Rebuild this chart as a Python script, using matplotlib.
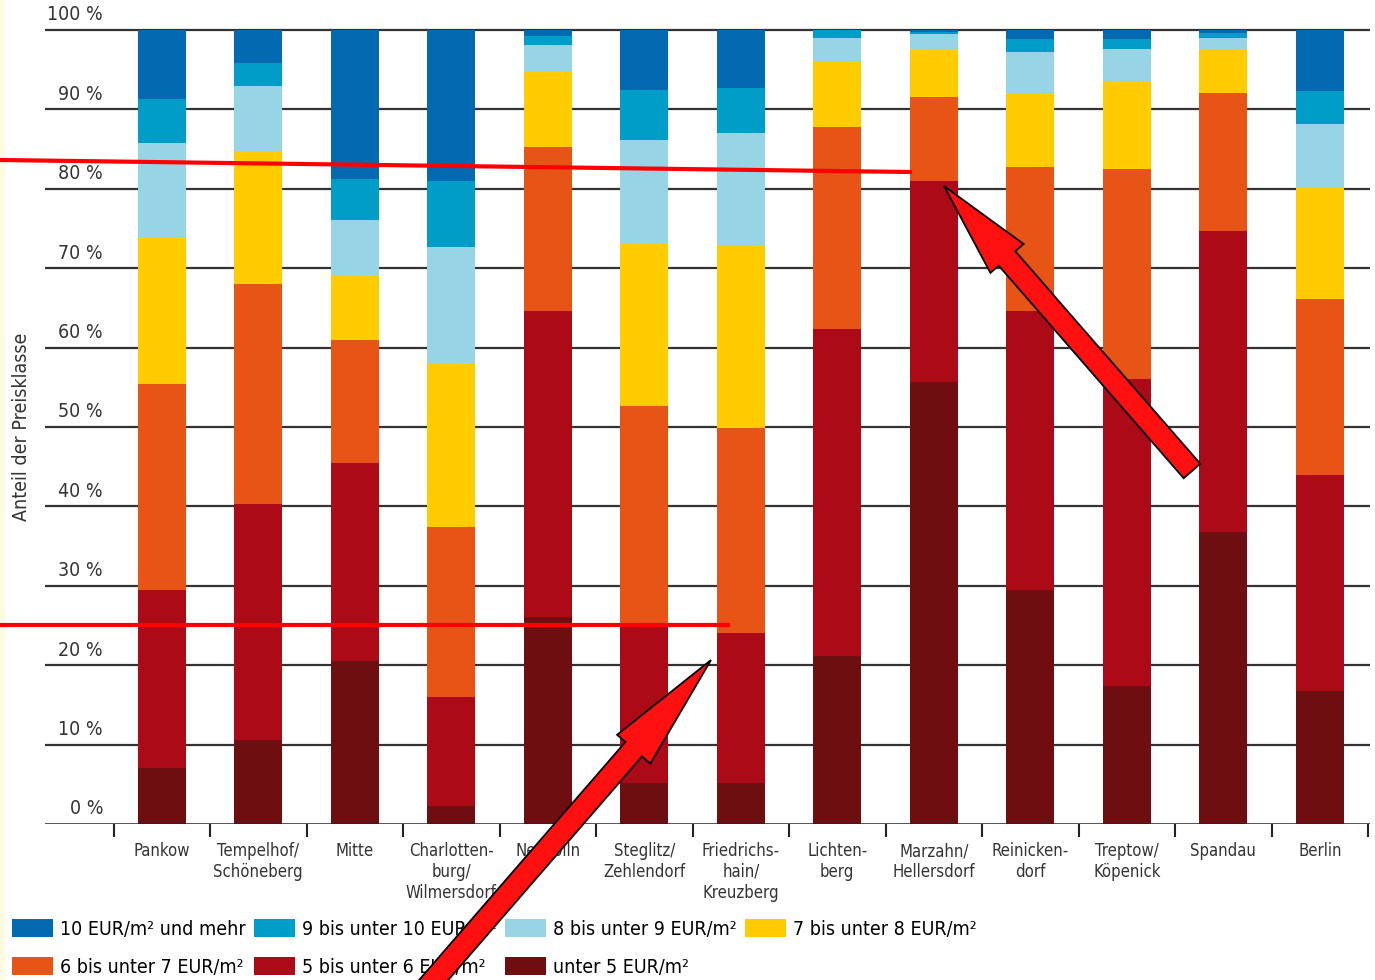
import matplotlib.pyplot as plt
import numpy as np
from matplotlib.patches import FancyArrow, Rectangle
from matplotlib.lines import Line2D
from matplotlib.transforms import IdentityTransform, blended_transform_factory

plt.rcParams['font.family'] = ['DejaVu Sans']
plt.rcParams['font.stretch'] = 'condensed'

# Bezirke
districts = ['Pankow', 'Tempelhof/\nSchöneberg', 'Mitte', 'Charlotten-\nburg/\nWilmersdorf',
             'Neukölln', 'Steglitz/\nZehlendorf', 'Friedrichs-\nhain/\nKreuzberg', 'Lichten-\nberg',
             'Marzahn/\nHellersdorf', 'Reinicken-\ndorf', 'Treptow/\nKöpenick', 'Spandau', 'Berlin']

# shares in % per price class (bottom to top)
under5 = [7.0, 10.6, 20.5, 2.3, 26.1, 5.2, 5.2, 21.2, 55.7, 29.5, 17.4, 36.8, 16.7]
p5_6 = [22.5, 29.7, 25.0, 13.7, 38.5, 19.6, 18.9, 41.1, 25.3, 35.1, 38.6, 37.9, 27.2]
p6_7 = [25.9, 27.7, 15.5, 21.4, 20.7, 27.8, 25.8, 25.5, 10.6, 18.1, 26.5, 17.3, 22.2]
p7_8 = [18.4, 16.8, 8.1, 20.7, 9.4, 20.6, 23.0, 8.3, 6.0, 9.4, 11.1, 5.5, 14.0]
p8_9 = [12.0, 8.1, 7.0, 14.6, 3.4, 12.9, 14.1, 2.9, 1.9, 5.1, 4.0, 1.5, 8.1]
p9_10 = [5.5, 2.9, 5.1, 8.3, 1.1, 6.3, 5.7, 1.0, 0.3, 1.7, 1.3, 0.6, 4.1]
p10 = [8.7, 4.2, 18.8, 19.0, 0.8, 7.6, 7.3, 0.0, 0.2, 1.1, 1.1, 0.4, 7.7]

series = [under5, p5_6, p6_7, p7_8, p8_9, p9_10, p10]
labels = ['unter 5 EUR/m²', '5 bis unter 6 EUR/m²', '6 bis unter 7 EUR/m²', '7 bis unter 8 EUR/m²',
          '8 bis unter 9 EUR/m²', '9 bis unter 10 EUR/m²', '10 EUR/m² und mehr']
colors = ['#6e0e10', '#ad0a18', '#e85316', '#ffcc00', '#97d4e6', '#009dc9', '#0369b1']

yticks = [0, 10, 20, 30, 40, 50, 60, 70, 80, 90, 100]

fig = plt.figure(figsize=(13.75, 9.8), dpi=100)
ax = fig.add_axes([45/1375, 156/980, 1325/1375, 798/980])

x = np.arange(len(districts))
bottom = np.zeros(len(districts))
bars = []
for vals, lab, col in zip(series, labels, colors):
    b = ax.bar(x, vals, 0.5, bottom=bottom, color=col, label=lab, zorder=3, linewidth=0)
    bars.append(b)
    bottom += np.array(vals)

ax.set_xlim(-1.21, 12.52)
ax.set_ylim(0, 100.5)

# grid lines
for v in yticks[1:]:
    ax.axhline(v, color='#333333', lw=1.6, zorder=1)
ax.axhline(0, color='#222222', lw=1.8, zorder=4)

for s in ax.spines.values():
    s.set_visible(False)
ax.set_yticks([])

ax.set_xticks(x)
ax.set_xticklabels(districts, fontsize=12, color='#333333', linespacing=1.2)
ax.tick_params(axis='x', length=0, pad=13)
ax.set_xticks(np.arange(-0.5, 13.0, 1.0), minor=True)
ax.tick_params(axis='x', which='minor', length=9, width=1.5, color='#222222')

trans = blended_transform_factory(ax.transAxes, ax.transData)
for v in yticks:
    ax.text(0.0438, v + 0.7, f'{v} %', ha='right', va='bottom', fontsize=14,
            color='#333333', transform=trans)

fig.text(22/1375, 1 - 427/980, 'Anteil der Preisklasse', rotation=90, ha='center', va='center',
         fontsize=14, color='#333333')

# legend: row 1 = blue/yellow classes, row 2 = red classes
order = [6, 2, 5, 1, 4, 0, 3]
fig.legend([bars[i] for i in order], [labels[i] for i in order], ncol=4,
           loc='upper left', bbox_to_anchor=(12/1375, 1 - 919/980), frameon=False,
           fontsize=14, handlelength=2.1, handleheight=1.05, handletextpad=0.35,
           columnspacing=0.45, labelspacing=0.95, borderaxespad=0, borderpad=0)

# cream strip on the left edge
fig.add_artist(Rectangle((0, 0), 4, 980, transform=IdentityTransform(), color='#fffbe3', zorder=0))

# red marker lines and arrows drawn over the chart
fig.add_artist(Line2D([0, 910], [980 - 160, 980 - 172], transform=IdentityTransform(),
                      color='#ff0000', lw=3, zorder=10))
fig.add_artist(Line2D([0, 728], [980 - 625, 980 - 625], transform=IdentityTransform(),
                      color='#ff0000', lw=3, zorder=10))

fig.add_artist(FancyArrow(1192, 980 - 471, -248, 285, width=22, head_width=44, head_length=96,
                          length_includes_head=True, transform=IdentityTransform(),
                          facecolor='#ff1010', edgecolor='black', lw=1.3, zorder=11))
fig.add_artist(FancyArrow(425, -10, 286, 330, width=22, head_width=44, head_length=118,
                          length_includes_head=True, transform=IdentityTransform(),
                          facecolor='#ff1010', edgecolor='black', lw=1.3, zorder=11))

fig.savefig('out.png', dpi=100)
